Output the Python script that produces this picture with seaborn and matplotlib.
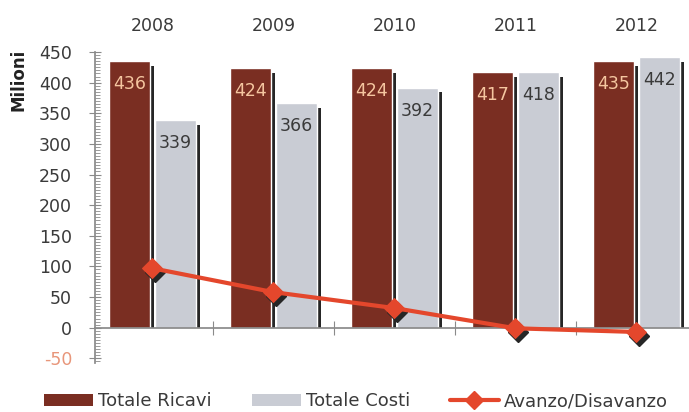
import matplotlib
matplotlib.use("Agg")
import matplotlib.pyplot as plt
import matplotlib.transforms as mtransforms
from matplotlib.patches import Rectangle, Patch
from matplotlib.lines import Line2D
from matplotlib.ticker import MultipleLocator, FixedLocator
import numpy as np
import pandas as pd
import seaborn as sns

# --- data -------------------------------------------------------------
years = ["2008", "2009", "2010", "2011", "2012"]
ricavi = [436, 424, 424, 417, 435]
costi = [339, 366, 392, 418, 442]
avanzo = [97, 58, 32, -1, -7]
series_names = ["Totale Ricavi", "Totale Costi", "Avanzo/Disavanzo"]
y_ticks = [-50, 0, 50, 100, 150, 200, 250, 300, 350, 400, 450]
y_label = "Milioni"

# --- style ------------------------------------------------------------
RED = "#7a2e22"
GRAY = "#c9ccd4"
SHADOW = "#262626"
LINE = "#e4472c"
PEACH = "#f5c6a0"
NEG = "#e8967a"
TEXT = "#3a3a3a"
AXIS = "#8a8a8a"

sns.set_theme(style="white")
plt.rcParams["font.family"] = ["DejaVu Sans"]

df = pd.DataFrame({
    "Anno": years * 2,
    "Valore": ricavi + costi,
    "Serie": [series_names[0]] * len(years) + [series_names[1]] * len(years),
})

fig = plt.figure(figsize=(6.89, 4.12), dpi=100)
ax = fig.add_axes([95 / 689, 0.1184, 1 - 95 / 689, 0.8752 - 0.1184])

sns.barplot(data=df, x="Anno", y="Valore", hue="Serie",
            palette=[RED, GRAY], saturation=1, width=0.76, gap=0.1,
            errorbar=None, legend=False, ax=ax, zorder=2)

# dark drop shadow to the right of each bar
shift_x = mtransforms.ScaledTranslation(4 / 100, 0, fig.dpi_scale_trans)
for container in ax.containers:
    for rect in container:
        shadow = Rectangle((rect.get_x(), 0), rect.get_width(),
                           rect.get_height() - 8, facecolor=SHADOW,
                           edgecolor="none", zorder=1.9,
                           transform=ax.transData + shift_x)
        ax.add_patch(shadow)

# value labels inside the bars
ax.bar_label(ax.containers[0], padding=-23, color=PEACH, fontsize=12.5)
ax.bar_label(ax.containers[1], padding=-23, color=TEXT, fontsize=12.5)

# surplus / deficit line with shadowed diamond markers
xpos = np.arange(len(years))
shift_m = mtransforms.ScaledTranslation(3 / 100, -4 / 100, fig.dpi_scale_trans)
ax.plot(xpos, avanzo, linestyle="none", marker="D", markersize=10.5,
        color=SHADOW, zorder=3.9, transform=ax.transData + shift_m)
sns.lineplot(x=xpos, y=avanzo, color=LINE, linewidth=3, marker="D",
             markersize=10.5, markeredgecolor=LINE, ax=ax, zorder=4)

# --- axes -------------------------------------------------------------
ax.set_xlim(-0.475, 4.434)
ax.set_ylim(-58, 451)
ax.set_xlabel("")

ax.set_yticks(y_ticks)
ax.set_yticklabels([str(t) for t in y_ticks])
for lbl, t in zip(ax.get_yticklabels(), y_ticks):
    lbl.set_color(NEG if t < 0 else TEXT)
ax.yaxis.set_minor_locator(MultipleLocator(5))
ax.tick_params(axis="y", which="major", left=True, direction="inout",
               length=9, width=0.8, color=AXIS, labelsize=12.5, pad=12)
ax.tick_params(axis="y", which="minor", left=True, direction="in",
               length=3.5, width=0.6, color=AXIS)

ax.set_xticks(xpos)
ax.set_xticklabels(years)
ax.tick_params(axis="x", which="major", top=False, bottom=False,
               labeltop=True, labelbottom=False, length=0,
               labelsize=12.5, labelcolor=TEXT, pad=12)
ax.xaxis.set_minor_locator(FixedLocator(xpos[:-1] + 0.5))
ax.tick_params(axis="x", which="minor", bottom=True, top=False,
               direction="inout", length=10, width=0.8, color=AXIS)

for side in ("top", "right"):
    ax.spines[side].set_visible(False)
ax.spines["bottom"].set_position(("data", 0))
ax.spines["bottom"].set_color(AXIS)
ax.spines["left"].set_color(AXIS)
ax.spines["left"].set_bounds(-58, 450)
ax.spines["bottom"].set_zorder(3)

ax.set_ylabel(y_label, fontsize=12, fontweight="bold", color="#222222")
ax.yaxis.set_label_coords(-0.113, 0.908)

# --- legend -----------------------------------------------------------
handles = [
    Patch(facecolor=RED, edgecolor="none"),
    Patch(facecolor=GRAY, edgecolor="none"),
    Line2D([0], [0], color=LINE, linewidth=3, marker="D", markersize=9,
           markeredgecolor=LINE),
]
fig.legend(handles, series_names, loc="center", bbox_to_anchor=(0.517, 0.026),
           ncol=3, frameon=False, fontsize=13, labelcolor=TEXT,
           handlelength=2.7, handleheight=0.7, handletextpad=0.3,
           columnspacing=2.2)

fig.savefig("out.png", dpi=100)
